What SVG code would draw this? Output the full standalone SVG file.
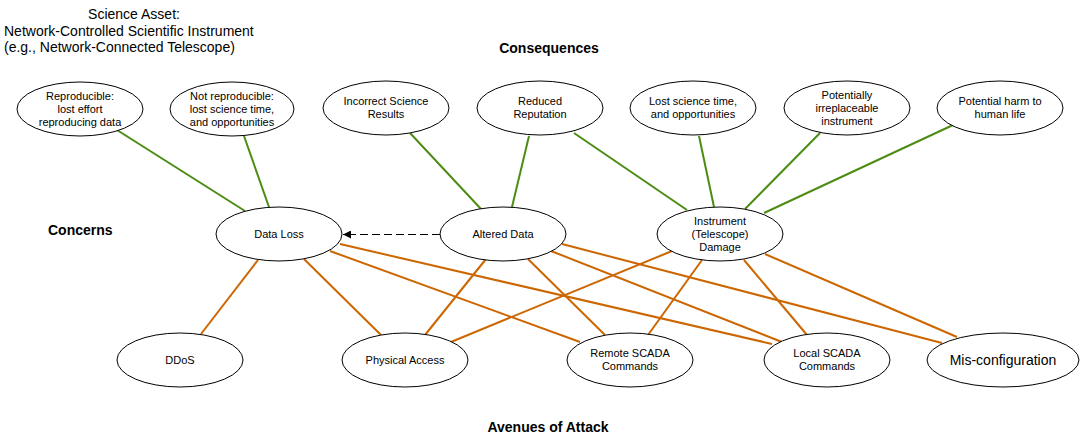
<svg xmlns="http://www.w3.org/2000/svg" width="1081" height="442" viewBox="0 0 1081 442">
  <style>
    .node ellipse { fill: #ffffff; stroke: #000000; stroke-width: 1; }
    .node text { font-family: "Liberation Sans", Arial, sans-serif; font-size: 11px; fill: #000000; text-anchor: middle; }
    .node text.big { font-size: 14px; }
    .label { font-family: "Liberation Sans", Arial, sans-serif; font-size: 14px; fill: #000000; }
    .heading { font-family: "Liberation Sans", Arial, sans-serif; font-size: 14px; font-weight: bold; fill: #000000; }
    .impact { stroke: #4d8c14; stroke-width: 2; fill: none; }
    .attack { stroke: #cc6600; stroke-width: 2; fill: none; }
    .implies { stroke: #000000; stroke-width: 1; stroke-dasharray: 8 4; fill: none; }
  </style>
  <defs>
    <marker id="arrow" viewBox="0 0 10 10" refX="10" refY="5" markerWidth="8" markerHeight="8" markerUnits="userSpaceOnUse" orient="auto">
      <path d="M0,0 L10,5 L0,10 Z" fill="#000000"/>
    </marker>
  </defs>

  <rect width="1081" height="442" fill="#ffffff"/>

  <!-- Title block -->
  <g id="asset-title" class="label">
    <text x="134" y="19" text-anchor="middle">Science Asset:</text>
    <text x="4" y="36">Network-Controlled Scientific Instrument</text>
    <text x="4" y="52">(e.g., Network-Connected Telescope)</text>
  </g>

  <!-- Row headings -->
  <text id="heading-consequences" class="heading" x="549" y="53" text-anchor="middle">Consequences</text>
  <text id="heading-concerns" class="heading" x="48" y="235">Concerns</text>
  <text id="heading-avenues" class="heading" x="548" y="432" text-anchor="middle">Avenues of Attack</text>

  <!-- Connectors -->
  <g id="connectors">
    <!-- consequences to concerns -->
    <line class="impact" x1="117" y1="130" x2="245" y2="211"/>
    <line class="impact" x1="244" y1="136" x2="269" y2="207"/>
    <line class="impact" x1="410" y1="133" x2="481" y2="209"/>
    <line class="impact" x1="529" y1="136" x2="512" y2="207"/>
    <line class="impact" x1="574" y1="133" x2="687" y2="210"/>
    <line class="impact" x1="699" y1="136" x2="714" y2="207"/>
    <line class="impact" x1="820" y1="133" x2="745" y2="209"/>
    <line class="impact" x1="953" y1="125" x2="764" y2="213"/>

    <!-- concerns to avenues of attack -->
    <line class="attack" x1="258" y1="260" x2="201" y2="334"/>
    <line class="attack" x1="304" y1="259" x2="381" y2="335"/>
    <line class="attack" x1="330" y1="251" x2="580" y2="342"/>
    <line class="attack" x1="340" y1="244" x2="772" y2="344"/>

    <line class="attack" x1="486" y1="259" x2="425" y2="335"/>
    <line class="attack" x1="528" y1="259" x2="605" y2="335"/>
    <line class="attack" x1="551" y1="251" x2="782" y2="342"/>
    <line class="attack" x1="562" y1="244" x2="942" y2="343"/>

    <line class="attack" x1="672" y1="251" x2="451" y2="342"/>
    <line class="attack" x1="702" y1="260" x2="648" y2="335"/>
    <line class="attack" x1="744" y1="260" x2="807" y2="335"/>
    <line class="attack" x1="765" y1="254" x2="957" y2="337"/>

    <!-- altered data implies data loss -->
    <line class="implies" x1="440" y1="234.5" x2="343" y2="234.5" marker-end="url(#arrow)"/>
  </g>

  <!-- Consequences -->
  <g id="reproducible" class="node">
    <ellipse cx="80" cy="109" rx="63" ry="27"/>
    <text x="80" y="100">Reproducible:</text>
    <text x="80" y="113">lost effort</text>
    <text x="80" y="126">reproducing data</text>
  </g>
  <g id="not-reproducible" class="node">
    <ellipse cx="232" cy="109" rx="62" ry="27"/>
    <text x="232" y="100">Not reproducible:</text>
    <text x="232" y="113">lost science time,</text>
    <text x="232" y="126">and opportunities</text>
  </g>
  <g id="incorrect-results" class="node">
    <ellipse cx="386" cy="108" rx="63" ry="27"/>
    <text x="386" y="105">Incorrect Science</text>
    <text x="386" y="118">Results</text>
  </g>
  <g id="reduced-reputation" class="node">
    <ellipse cx="540" cy="108" rx="63" ry="27"/>
    <text x="540" y="105">Reduced</text>
    <text x="540" y="118">Reputation</text>
  </g>
  <g id="lost-science-time" class="node">
    <ellipse cx="693" cy="108" rx="63" ry="27"/>
    <text x="693" y="105">Lost science time,</text>
    <text x="693" y="118">and opportunities</text>
  </g>
  <g id="irreplaceable-instrument" class="node">
    <ellipse cx="847" cy="108" rx="63" ry="27"/>
    <text x="847" y="99">Potentially</text>
    <text x="847" y="112">irreplaceable</text>
    <text x="847" y="125">instrument</text>
  </g>
  <g id="harm-to-life" class="node">
    <ellipse cx="1000" cy="108" rx="63" ry="27"/>
    <text x="1000" y="105">Potential harm to</text>
    <text x="1000" y="118">human life</text>
  </g>

  <!-- Concerns -->
  <g id="data-loss" class="node">
    <ellipse cx="279" cy="234" rx="63" ry="27"/>
    <text x="279" y="238">Data Loss</text>
  </g>
  <g id="altered-data" class="node">
    <ellipse cx="503" cy="234" rx="63" ry="27"/>
    <text x="503" y="238">Altered Data</text>
  </g>
  <g id="instrument-damage" class="node">
    <ellipse cx="720" cy="234" rx="63" ry="27"/>
    <text x="720" y="225">Instrument</text>
    <text x="720" y="238">(Telescope)</text>
    <text x="720" y="251">Damage</text>
  </g>

  <!-- Avenues of attack -->
  <g id="ddos" class="node">
    <ellipse cx="180" cy="360" rx="63" ry="27"/>
    <text x="180" y="364">DDoS</text>
  </g>
  <g id="physical-access" class="node">
    <ellipse cx="405" cy="360" rx="63" ry="27"/>
    <text x="405" y="364">Physical Access</text>
  </g>
  <g id="remote-scada" class="node">
    <ellipse cx="630" cy="360" rx="63" ry="27"/>
    <text x="630" y="357">Remote SCADA</text>
    <text x="630" y="370">Commands</text>
  </g>
  <g id="local-scada" class="node">
    <ellipse cx="827" cy="360" rx="63" ry="27"/>
    <text x="827" y="357">Local SCADA</text>
    <text x="827" y="370">Commands</text>
  </g>
  <g id="misconfiguration" class="node">
    <ellipse cx="1003" cy="360" rx="76" ry="27"/>
    <text class="big" x="1003" y="365">Mis-configuration</text>
  </g>
</svg>
